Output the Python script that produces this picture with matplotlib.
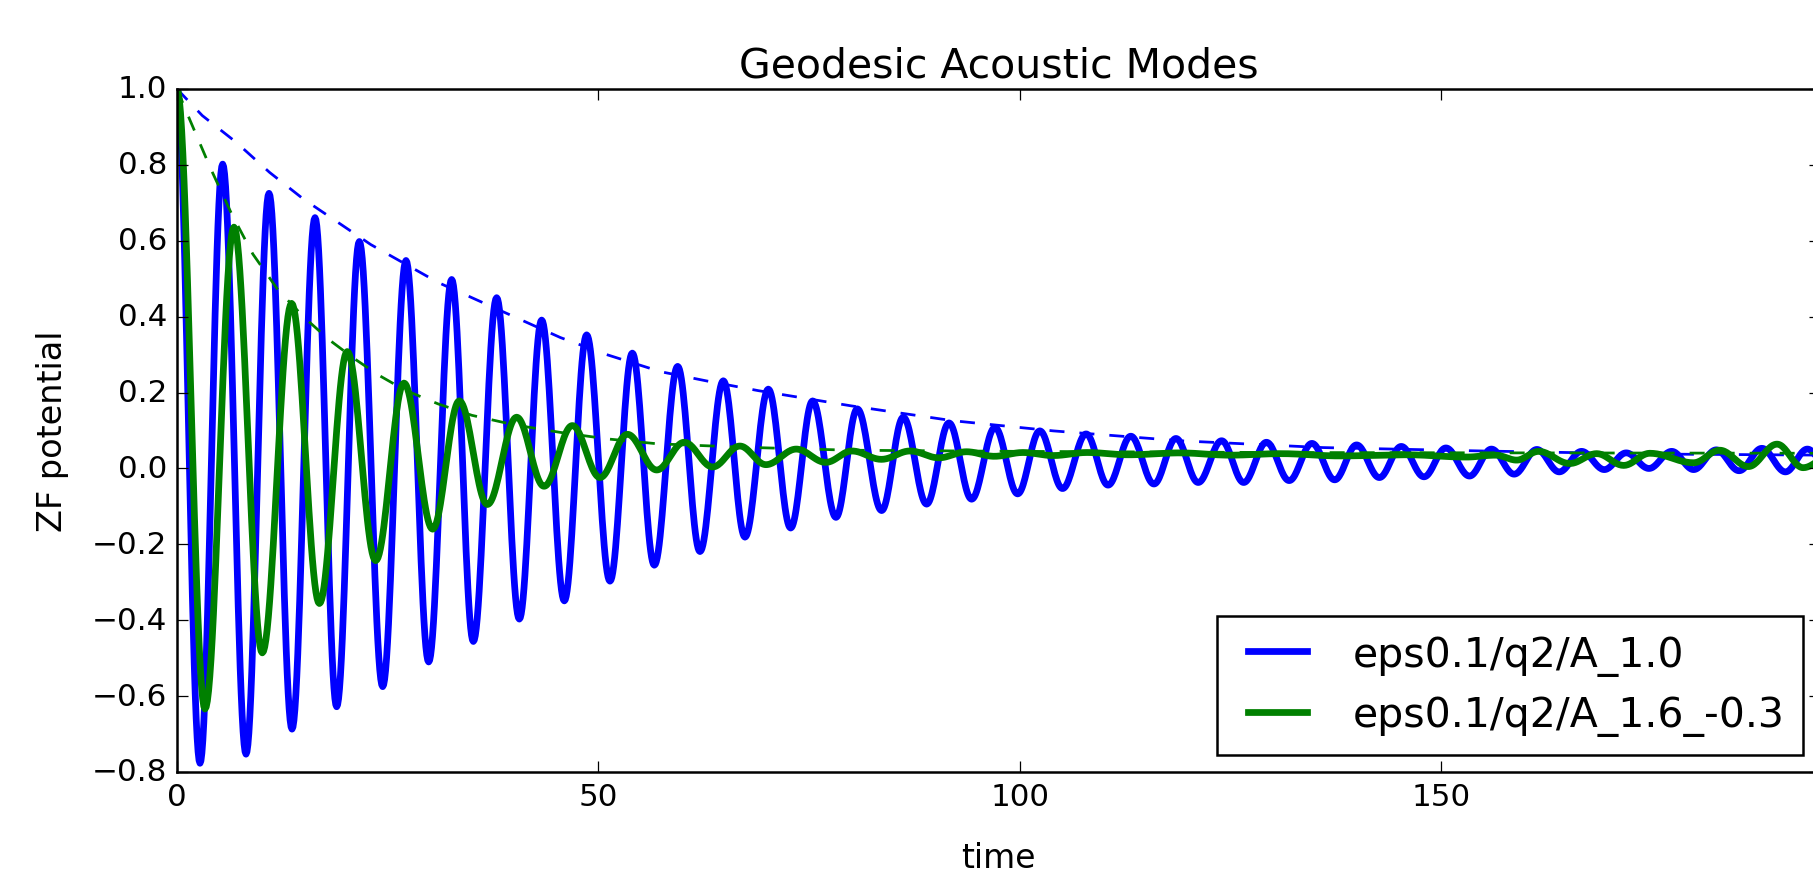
import numpy as np
import matplotlib
matplotlib.use("Agg")
import matplotlib.pyplot as plt

# ---------------- data ----------------
title = "Geodesic Acoustic Modes"
xlabel = "time"
ylabel = "ZF potential"
labels = ["eps0.1/q2/A_1.0", "eps0.1/q2/A_1.6_-0.3"]
xticks = [0, 50, 100, 150]
yticks = [-0.8, -0.6, -0.4, -0.2, 0.0, 0.2, 0.4, 0.6, 0.8, 1.0]

# extrema (time, value) of the blue curve
blue_t = [0.0, 2.73, 5.42, 8.19, 10.92, 13.65, 16.38, 18.95, 21.64, 24.41, 27.18,
          29.87, 32.6, 35.17, 37.94, 40.63, 43.28, 45.97, 48.62, 51.39, 54.04,
          56.65, 59.42, 62.07, 64.84, 67.41, 70.18, 72.83, 75.44, 78.21, 80.74,
          83.63, 86.2, 88.97, 91.62, 94.31, 97.08, 99.77, 102.4, 105.1, 107.9,
          110.5, 113.2, 115.95, 118.56, 121.2, 123.98, 126.6, 129.3, 132.0, 134.7,
          137.4, 140.0, 142.7, 145.3, 148.0, 150.6, 153.4, 156.0, 158.7, 161.4,
          164.05, 166.7, 169.4, 172.0, 174.7, 177.4, 180.0, 182.7, 185.4, 188.1,
          190.9, 193.5, 196.2]
blue_v = [1.0, -0.777, 0.802, -0.753, 0.725, -0.687, 0.661, -0.628, 0.598, -0.575, 0.548,
          -0.510, 0.498, -0.456, 0.450, -0.397, 0.391, -0.349, 0.352, -0.297, 0.304,
          -0.255, 0.269, -0.219, 0.231, -0.181, 0.209, -0.157, 0.178, -0.129, 0.157,
          -0.111, 0.135, -0.094, 0.120, -0.081, 0.108, -0.067, 0.099, -0.053, 0.091,
          -0.044, 0.085, -0.041, 0.079, -0.037, 0.073, -0.037, 0.069, -0.032, 0.066,
          -0.030, 0.062, -0.024, 0.058, -0.022, 0.054, -0.020, 0.051, -0.015, 0.050,
          -0.009, 0.045, -0.003, 0.041, 0.000, 0.045, -0.003, 0.049, -0.006, 0.053,
          -0.009, 0.051, -0.010]

# extrema (time, value) of the green curve
green_t = [0.0, 3.32, 6.76, 10.12, 13.6, 16.9, 20.2, 23.58, 26.94, 30.34, 33.5,
           36.83, 40.31, 43.56, 46.92, 50.2, 53.45, 56.93, 60.2, 63.57, 66.8,
           69.9, 73.5, 77.0, 80.1, 83.6, 87.0, 90.4, 93.7, 97.0, 100.4,
           104.0, 108.0, 113.0, 119.0, 125.0, 131.0, 138.0, 146.0, 153.0, 156.5,
           159.0, 161.6, 165.3, 168.5, 171.7, 174.8, 180.0, 183.1, 186.5, 189.9,
           193.0, 196.0]
green_v = [1.0, -0.634, 0.636, -0.486, 0.435, -0.356, 0.308, -0.243, 0.225, -0.160, 0.178,
           -0.095, 0.135, -0.047, 0.113, -0.024, 0.090, -0.004, 0.069, 0.004, 0.059,
           0.010, 0.051, 0.016, 0.046, 0.024, 0.046, 0.028, 0.044, 0.032, 0.042,
           0.034, 0.042, 0.036, 0.041, 0.035, 0.039, 0.033, 0.036, 0.030, 0.035,
           0.022, 0.045, 0.013, 0.039, 0.008, 0.040, 0.015, 0.048, 0.005, 0.064,
           0.002, 0.030]

# dashed envelopes
blue_env_t = [0, 3, 7, 11, 15, 19, 23, 27, 31, 35, 40, 45.5, 51, 57.4, 63, 69,
              80, 92, 104, 119, 136, 155, 175, 196]
blue_env_v = [1.0, 0.93, 0.86, 0.78, 0.71, 0.65, 0.59, 0.54, 0.49, 0.45, 0.40, 0.345,
              0.30, 0.255, 0.23, 0.205, 0.165, 0.126, 0.099, 0.073, 0.055, 0.046,
              0.038, 0.035]
green_env_t = [0, 1.5, 4, 6.5, 9, 12, 15, 18, 21, 24, 27, 31, 35, 40, 45.5, 51, 57,
               67, 80, 100, 130, 160, 196]
green_env_v = [1.0, 0.92, 0.79, 0.67, 0.565, 0.47, 0.40, 0.34, 0.29, 0.245, 0.207,
               0.17, 0.14, 0.115, 0.095, 0.078, 0.065, 0.056, 0.048, 0.045, 0.042,
               0.041, 0.040]

x_max = 195.0
ylim = (-0.8, 1.0)


def smooth_path(te, ve, n=24):
    """Draw a smooth curve through successive extrema (half-cosine easing)."""
    ts, vs = [te[0]], [ve[0]]
    for i in range(len(te) - 1):
        s = np.linspace(0, 1, n + 1)[1:]
        ts.extend(te[i] + (te[i + 1] - te[i]) * s)
        vs.extend(ve[i] + (ve[i + 1] - ve[i]) * (1 - np.cos(np.pi * s)) / 2)
    return np.array(ts), np.array(vs)


plt.style.use("classic")
plt.rcParams["font.family"] = ["DejaVu Sans"]
plt.rcParams["xtick.major.size"] = 4.4
plt.rcParams["ytick.major.size"] = 4.4

dpi = 180
fig = plt.figure(figsize=(1813 / dpi, 872 / dpi), dpi=dpi, facecolor="white")
ax = fig.add_axes([177 / 1813, 1 - 773 / 872, (1820 - 177) / 1813, (773 - 90) / 872])

bt, bv = smooth_path(blue_t, blue_v)
gt, gv = smooth_path(green_t, green_v)

ax.plot(bt, bv, color="b", lw=2.7, label=labels[0])
ax.plot(blue_env_t, blue_env_v, color="b", lw=1.1, ls="--")
ax.plot(gt, gv, color="g", lw=2.7, label=labels[1])
ax.plot(green_env_t, green_env_v, color="g", lw=1.1, ls="--")

ax.set_xlim(0, x_max)
ax.set_ylim(*ylim)
ax.set_xticks(xticks)
ax.set_yticks(yticks)
ax.tick_params(labelsize=12.4)
ax.set_title(title, fontsize=16.4)
ax.set_xlabel(xlabel, fontsize=13.2, labelpad=12)
ax.set_ylabel(ylabel, fontsize=13.4, labelpad=9)

ax.legend(loc="lower right", fontsize=16.4, handlelength=2.05, handletextpad=0.8,
          borderpad=0.45, labelspacing=0.48, borderaxespad=0.42, fancybox=False,
          numpoints=2)

fig.savefig("out.png", dpi=dpi, facecolor="white")
